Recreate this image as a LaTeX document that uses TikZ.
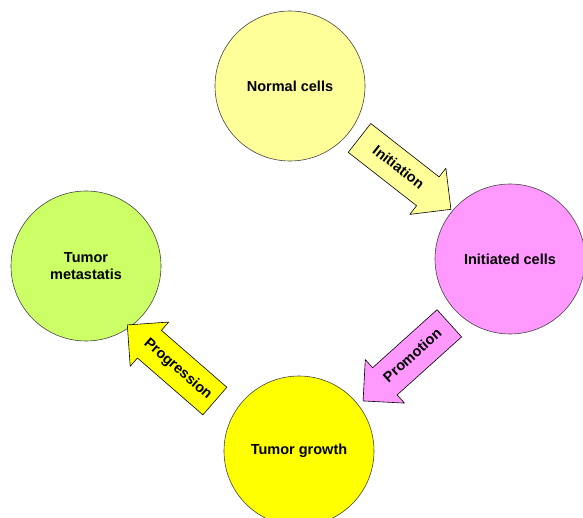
\documentclass[tikz,border=0pt]{standalone}
\usepackage{fontspec}
\setmainfont{Liberation Sans}
\usepackage{pgf,tikz}
\usetikzlibrary{arrows,shapes.arrows,calc}
\definecolor{uuuuuu}{rgb}{0.26666666666666666,0.26666666666666666,0.26666666666666666}
\definecolor{ffff99}{rgb}{1.,1.,0.6}
\definecolor{ffffqq}{rgb}{1.,1.,0.}
\definecolor{ff99ff}{rgb}{1.,0.6,1.}
\definecolor{ccff66}{rgb}{0.8,1.,0.4}
\begin{document}
\begin{tikzpicture}[line cap=round,line join=round,x=1pt,y=1pt,
	cellnode/.style={circle,draw=uuuuuu,line width=0.6pt,minimum size=150pt,inner sep=0pt,align=center,font=\fontsize{14.5}{17}\selectfont\bfseries},
	blockarrow/.style={single arrow,draw=black,line width=0.6pt,minimum height=116pt,single arrow head extend=11pt,inner xsep=6pt,inner ysep=11pt,text height=11pt,text depth=3pt,font=\fontsize{14.5}{17}\selectfont\bfseries}]
	\useasboundingbox (0,0) rectangle (583,517);
	\clip (0,0) rectangle (583,517);
	% the four stages
	\node[cellnode,fill=ffff99] (normal) at (290,431) {Normal cells};
	\node[cellnode,fill=ff99ff] (initiated) at (510,258) {Initiated cells};
	\node[cellnode,fill=ffffqq] (growth) at (299,66) {Tumor growth};
	\node[cellnode,fill=ccff66] (metastatis) at (86,251) {Tumor\\metastatis};
	% the steps between them
	\node[blockarrow,fill=ffff99,rotate=-38] (initiation) at (398,349) {Initiation};
	\node[blockarrow,fill=ff99ff,rotate=42,shape border rotate=180] (promotion) at (413,161) {Promotion};
	\node[blockarrow,fill=ffffqq,rotate=-41,shape border rotate=180] (progression) at (178,148) {Progression};
\end{tikzpicture}
\end{document}
